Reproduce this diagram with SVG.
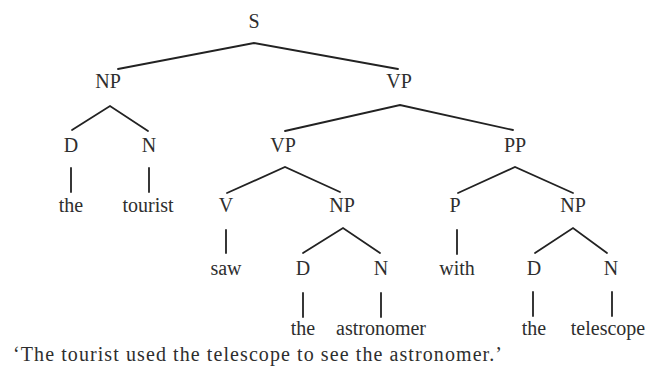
<svg xmlns="http://www.w3.org/2000/svg" width="647" height="368" viewBox="0 0 647 368">
<style>
.l{font-family:"Liberation Serif","Times New Roman",serif;font-size:20px;fill:#2e2e2e;text-anchor:middle}
.c{font-family:"Liberation Serif","Times New Roman",serif;font-size:20px;fill:#2e2e2e}
.e{stroke:#222;stroke-width:1.8;fill:none;stroke-linecap:round}
</style>
<rect width="647" height="368" fill="#fff"/>
<g id="connectors" class="e">
<path d="M118,69 L254,43 L398,69"/>
<path d="M72,130 L110,106 L148,131"/>
<path d="M285,131 L400,105 L513,130"/>
<path d="M71,168 V192 M149,168 V192"/>
<path d="M227,193 L285,167 L340,192"/>
<path d="M458,193 L515,167 L573,193"/>
<path d="M226,230 V253 M457,230 V254"/>
<path d="M303,253 L343,228 L380,253"/>
<path d="M535,253 L573,228 L607,253"/>
<path d="M303,293 V317 M381,293 V317 M533,292 V316 M612,292 V316"/>
</g>
<g id="n-S"><text class="l" x="254" y="28">S</text></g>
<g id="n-NP1"><text class="l" x="108" y="88">NP</text></g>
<g id="n-VP1"><text class="l" x="399" y="88">VP</text></g>
<g id="n-D1"><text class="l" x="71" y="152">D</text></g>
<g id="n-N1"><text class="l" x="149" y="152">N</text></g>
<g id="n-VP2"><text class="l" x="283" y="152">VP</text></g>
<g id="n-PP"><text class="l" x="515" y="152">PP</text></g>
<g id="n-the1"><text class="l" x="71" y="212">the</text></g>
<g id="n-tourist"><text class="l" x="148" y="212">tourist</text></g>
<g id="n-V"><text class="l" x="226" y="212">V</text></g>
<g id="n-NP2"><text class="l" x="342" y="212">NP</text></g>
<g id="n-P"><text class="l" x="455" y="212">P</text></g>
<g id="n-NP3"><text class="l" x="573" y="212">NP</text></g>
<g id="n-saw"><text class="l" x="226" y="275">saw</text></g>
<g id="n-D2"><text class="l" x="303" y="275">D</text></g>
<g id="n-N2"><text class="l" x="381" y="275">N</text></g>
<g id="n-with"><text class="l" x="457" y="275">with</text></g>
<g id="n-D3"><text class="l" x="534" y="275">D</text></g>
<g id="n-N3"><text class="l" x="611" y="275">N</text></g>
<g id="n-the2"><text class="l" x="303" y="335">the</text></g>
<g id="n-astronomer"><text class="l" x="381" y="335">astronomer</text></g>
<g id="n-the3"><text class="l" x="534" y="335">the</text></g>
<g id="n-telescope"><text class="l" x="608" y="335">telescope</text></g>
<g id="caption"><text class="c" x="13" y="361" textLength="489" lengthAdjust="spacing">‘The tourist used the telescope to see the astronomer.’</text></g>
</svg>
